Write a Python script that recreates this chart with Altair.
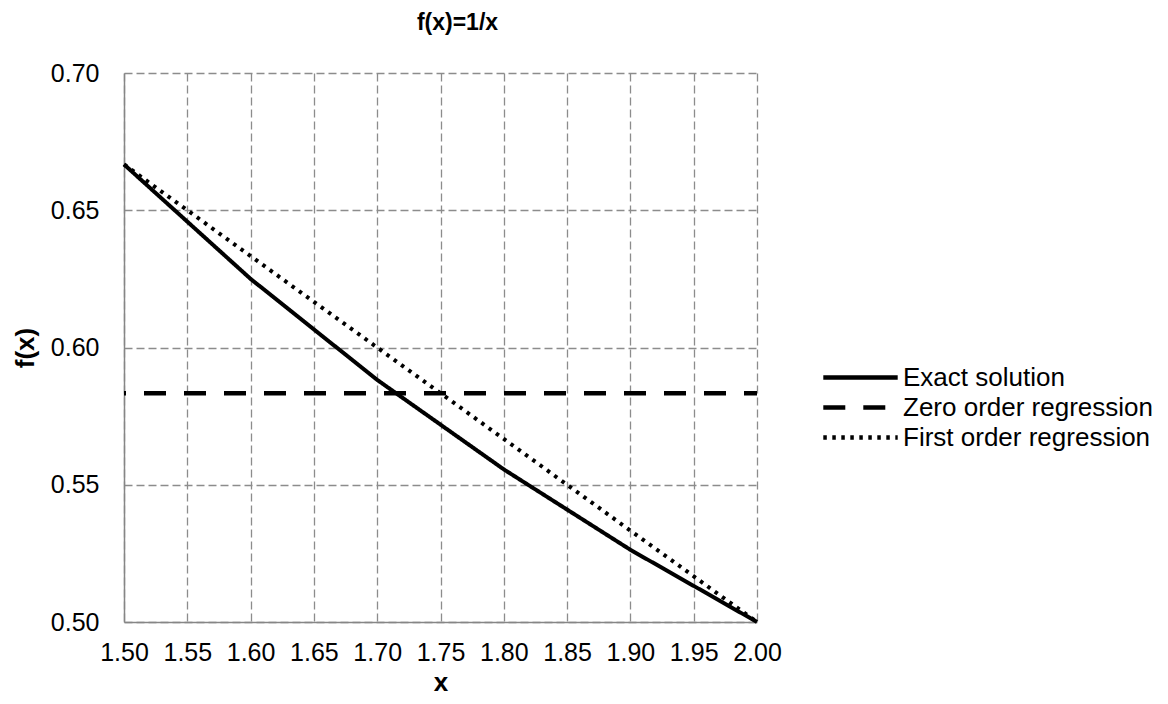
import altair as alt
import pandas as pd

# ---- data ----
series_names = ["Exact solution", "Zero order regression", "First order regression"]

exact_x = [1.5, 1.6, 1.7, 1.8, 1.9, 2.0]
exact_y = [0.6667, 0.6250, 0.5882, 0.5556, 0.5263, 0.5000]

zero_x = [1.5, 2.0]
zero_y = [0.5833, 0.5833]

first_x = [1.5, 1.6, 1.7, 1.8, 1.9, 2.0]
first_y = [0.6667, 0.6333, 0.6000, 0.5667, 0.5333, 0.5000]

x_ticks = [1.50, 1.55, 1.60, 1.65, 1.70, 1.75, 1.80, 1.85, 1.90, 1.95, 2.00]
y_ticks = [0.50, 0.55, 0.60, 0.65, 0.70]

FONT = "Liberation Sans"

df_exact = pd.DataFrame({"x": exact_x, "y": exact_y, "series": series_names[0]})
df_zero = pd.DataFrame({"x": zero_x, "y": zero_y, "series": series_names[1]})
df_first = pd.DataFrame({"x": first_x, "y": first_y, "series": series_names[2]})

x_enc = alt.X(
    "x:Q",
    scale=alt.Scale(domain=[1.5, 2.0], nice=False, zero=False),
    axis=alt.Axis(
        values=x_ticks, format=".2f", title="x", ticks=False,
        labelFlush=False, labelOverlap=False, labelPadding=18,
        titlePadding=4,
    ),
)
y_enc = alt.Y(
    "y:Q",
    scale=alt.Scale(domain=[0.5, 0.7], nice=False, zero=False),
    axis=alt.Axis(
        values=y_ticks, format=".2f", title="f(x)", ticks=False,
        labelFlush=False, labelOverlap=False, labelPadding=25,
        titlePadding=12, titleFontSize=26,
    ),
)

dash_scale = alt.Scale(
    domain=series_names,
    range=[[1, 0], [22, 18], [3.5, 5.5]],
)

legend = alt.Legend(
    orient="none", legendX=722, legendY=290, title=None,
    symbolType="M-3.1,0H3.1", symbolSize=576, symbolStrokeWidth=4.5,
    symbolStrokeColor="black", labelOffset=28, labelFontSize=26,
    labelFont=FONT, labelColor="black", labelLimit=500, rowPadding=2,
    padding=0,
)

def layer(df, width, dash_offset=0):
    return alt.Chart(df).mark_line(
        color="black", strokeWidth=width, strokeDashOffset=dash_offset,
        strokeCap="butt",
    ).encode(
        x=x_enc,
        y=y_enc,
        strokeDash=alt.StrokeDash("series:N", scale=dash_scale, legend=legend),
    )

chart = alt.layer(
    layer(df_exact, 4),
    layer(df_zero, 4.5, 20),
    layer(df_first, 4),
).properties(
    width=633,
    height=549,
    padding={"left": 116, "top": 65, "right": 403, "bottom": 74},
    autosize=alt.AutoSizeParams(type="none"),
    title=alt.TitleParams(
        "f(x)=1/x", font=FONT, fontSize=23, fontWeight="bold", color="black",
        anchor="middle", frame="group", offset=26, dx=17,
    ),
).configure_view(
    stroke=None,
).configure_axis(
    labelFont=FONT, labelFontSize=25, labelColor="black",
    titleFont=FONT, titleFontSize=26, titleFontWeight="bold", titleColor="black",
    domainColor="#868686", domainWidth=1.5,
    gridColor="#8c8c8c", gridWidth=1.3, gridDash=[8, 4],
)

chart.save("out.html", embed_options={"renderer": "svg", "actions": False})
